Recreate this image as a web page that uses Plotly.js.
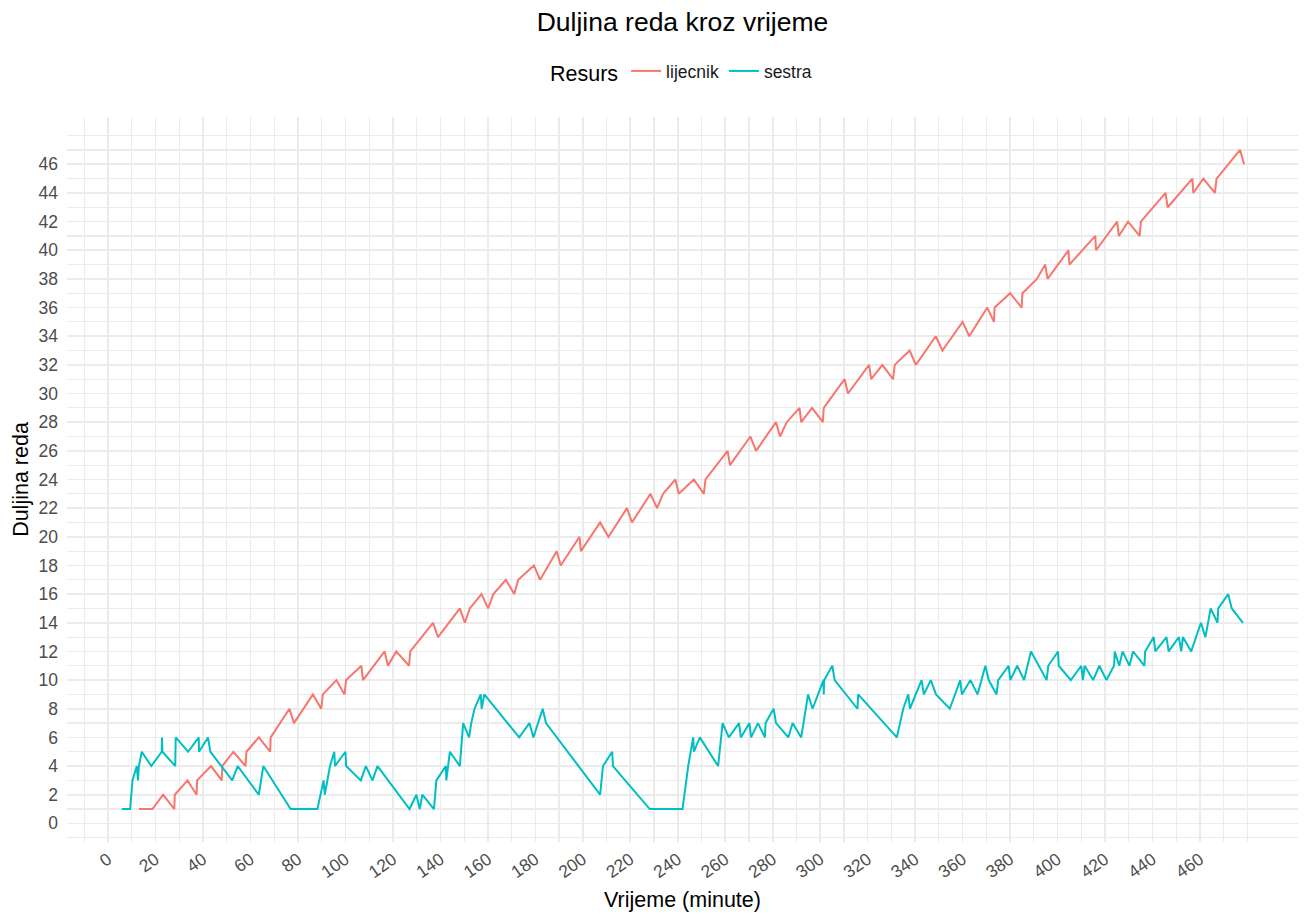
<!DOCTYPE html>
<html>
<head>
<meta charset="utf-8">
<script src="https://cdn.plot.ly/plotly-3.0.1.min.js"></script>
<style>html,body{margin:0;padding:0;background:#fff;}#chart{width:1308px;height:914px;}</style>
</head>
<body>
<div id="chart"></div>
<script>
// Resource names (legend order)
const resources = ["lijecnik", "sestra"];
const colors = ["#F8766D", "#00BFC4"];

// lijecnik: time (minutes) and queue length
const lijecnikT = [13, 18.7, 23.2, 27.9, 28.1, 33.5, 37.3, 37.5, 43.4, 47.9, 48.1, 52.8, 57.9, 58.3, 63.5, 68.3, 68.5, 76.4, 78.3, 86.3, 89.8, 90.5, 96.2, 99.6, 100.3, 106.7, 107.4, 116.5, 117.9, 121.4, 126.8, 127.3, 136.9, 139, 148.2, 150.3, 152.4, 157.3, 160.1, 162.3, 167.6, 171.1, 172.8, 179.4, 182, 189, 190.7, 198.6, 199.2, 207.3, 210.8, 218.6, 220.7, 228.5, 231.3, 233.8, 239, 240.4, 246.8, 251, 251.7, 261, 262, 270.6, 273, 281.4, 283.1, 285.9, 291.3, 292, 296.6, 301.1, 301.5, 310.3, 311.7, 320.6, 321.5, 326.2, 330.7, 331.4, 337.7, 340.3, 348.7, 351.5, 360, 362.8, 370.4, 373.2, 373.5, 380, 384.9, 385.2, 391.3, 394.8, 395.8, 404.6, 405, 415.9, 416.2, 425.1, 425.8, 429.7, 434.6, 435.1, 445.5, 446.4, 456.8, 457.2, 461.4, 466.3, 467, 476.9, 478.6];
const lijecnikLen = [1, 1, 2, 1, 2, 3, 2, 3, 4, 3, 4, 5, 4, 5, 6, 5, 6, 8, 7, 9, 8, 9, 10, 9, 10, 11, 10, 12, 11, 12, 11, 12, 14, 13, 15, 14, 15, 16, 15, 16, 17, 16, 17, 18, 17, 19, 18, 20, 19, 21, 20, 22, 21, 23, 22, 23, 24, 23, 24, 23, 24, 26, 25, 27, 26, 28, 27, 28, 29, 28, 29, 28, 29, 31, 30, 32, 31, 32, 31, 32, 33, 32, 34, 33, 35, 34, 36, 35, 36, 37, 36, 37, 38, 39, 38, 40, 39, 41, 40, 42, 41, 42, 41, 42, 44, 43, 45, 44, 45, 44, 45, 47, 46];

// sestra: time (minutes) and queue length
const sestraT = [5.8, 9.3, 10.3, 12.1, 12.6, 13.0, 14.2, 18.2, 22.6, 22.7, 22.9, 28.3, 28.5, 33.7, 38.2, 38.3, 42.1, 43.1, 52.3, 54.6, 63.5, 65.4, 76.9, 88.2, 90.8, 91.3, 93.5, 95.3, 95.6, 100, 100.3, 106.5, 108.6, 111.4, 113.5, 127, 129.9, 131.3, 132.4, 137.3, 138.3, 142.3, 142.5, 144, 148.2, 149.6, 152.1, 153, 154.4, 157, 157.4, 158.5, 173.2, 177.5, 179.2, 183.1, 184.5, 207.3, 208.5, 212.4, 212.7, 228.2, 242, 244.4, 246.5, 246.8, 249.3, 257, 258.9, 261.5, 265.8, 266.6, 270.2, 270.9, 273.8, 276.7, 277, 280.4, 281.4, 286.6, 288.4, 292, 294.9, 296.8, 301.4, 301.5, 301.7, 305.1, 306.1, 315.7, 316, 332.3, 335, 337.1, 337.8, 342.7, 343.7, 346.6, 348.8, 354.6, 359, 359.7, 363.3, 366.3, 369.6, 371, 374.3, 375, 379.4, 380.1, 383, 385.9, 388.8, 395.4, 396.1, 400.2, 400.5, 405.6, 410, 410.7, 411.4, 415, 417.6, 420.6, 423.8, 424.1, 426, 427.4, 430.3, 431.8, 436.6, 436.9, 440.5, 441.2, 445.9, 446.8, 451.1, 452.1, 452.8, 456.3, 460.4, 462.3, 464.5, 467.4, 467.7, 471.9, 473.4, 478.1];
const sestraLen = [1, 1, 3, 4, 3, 4, 5, 4, 5, 6, 5, 4, 6, 5, 6, 5, 6, 5, 3, 4, 2, 4, 1, 1, 3, 2, 4, 5, 4, 5, 4, 3, 4, 3, 4, 1, 2, 1, 2, 1, 3, 4, 3, 5, 4, 7, 6, 7, 8, 9, 8, 9, 6, 7, 6, 8, 7, 2, 4, 5, 4, 1, 1, 4, 6, 5, 6, 4, 7, 6, 7, 6, 7, 6, 7, 6, 7, 8, 7, 6, 7, 6, 9, 8, 10, 9, 10, 11, 10, 8, 9, 6, 8, 9, 8, 10, 9, 10, 9, 8, 10, 9, 10, 9, 11, 10, 9, 10, 11, 10, 11, 10, 12, 10, 11, 12, 11, 10, 11, 10, 11, 10, 11, 10, 11, 12, 11, 12, 11, 12, 11, 12, 13, 12, 13, 12, 13, 12, 13, 12, 14, 13, 15, 14, 15, 16, 15, 14];

// Axis tick labels
const xTicks = [0, 20, 40, 60, 80, 100, 120, 140, 160, 180, 200, 220, 240, 260, 280, 300, 320, 340, 360, 380, 400, 420, 440, 460];
const yTicks = [0, 2, 4, 6, 8, 10, 12, 14, 16, 18, 20, 22, 24, 26, 28, 30, 32, 34, 36, 38, 40, 42, 44, 46];

const xMinor = [];
for (let v = -10; v <= 480; v += 10) { if (xTicks.indexOf(v) < 0) xMinor.push(v); }
const yMinor = [];
for (let v = -1; v <= 48; v += 1) { if (yTicks.indexOf(v) < 0) yMinor.push(v); }

const seriesT = [lijecnikT, sestraT];
const seriesY = [lijecnikLen, sestraLen];

const traces = resources.map((r, i) => ({
  type: "scatter",
  mode: "lines",
  name: r,
  x: seriesT[i],
  y: seriesY[i],
  line: { color: colors[i], width: 2 }
}));

const FONT = "Liberation Sans, Arial, sans-serif";
const grid = "#EBEBEB";

const layout = {
  width: 1308,
  height: 914,
  margin: { l: 67, r: 10, t: 117, b: 72 },
  paper_bgcolor: "#ffffff",
  plot_bgcolor: "#ffffff",
  font: { family: FONT, color: "#000000" },
  title: {
    text: "Duljina reda kroz vrijeme",
    font: { family: FONT, size: 26.5, color: "#000000" },
    x: 0.5, xref: "paper", xanchor: "center",
    y: 0.976, yref: "container", yanchor: "middle"
  },
  legend: {
    orientation: "h",
    x: 0.5, xanchor: "center",
    y: 1.062, yanchor: "middle",
    font: { family: FONT, size: 17.5, color: "#1a1a1a" },
    title: { text: "Resurs", side: "left", font: { family: FONT, size: 21.5, color: "#000000" } },
    itemwidth: 30,
    tracegroupgap: 0
  },
  xaxis: {
    range: [-17.3, 501.3],
    tickmode: "array",
    tickvals: xTicks,
    ticktext: xTicks.map(String),
    tickangle: -35,
    tickfont: { family: FONT, size: 17.5, color: "#4D4D4D" },
    ticks: "",
    ticklabelstandoff: 3,
    showline: false,
    zeroline: false,
    showgrid: true,
    gridcolor: grid,
    gridwidth: 1.6,
    minor: { tickmode: "array", tickvals: xMinor, showgrid: true, gridcolor: grid, gridwidth: 1.2, ticks: "" },
    automargin: false,
    title: { text: "Vrijeme (minute)", font: { family: FONT, size: 21.5, color: "#000000" }, standoff: 11 }
  },
  yaxis: {
    range: [-1.3, 49.3],
    tickmode: "array",
    tickvals: yTicks,
    ticktext: yTicks.map(String),
    tickfont: { family: FONT, size: 17.5, color: "#4D4D4D" },
    ticks: "",
    ticklabelstandoff: 8,
    showline: false,
    zeroline: false,
    showgrid: true,
    gridcolor: grid,
    gridwidth: 1.6,
    minor: { tickmode: "array", tickvals: yMinor, showgrid: true, gridcolor: grid, gridwidth: 1.2, ticks: "" },
    automargin: false,
    title: { text: "Duljina reda", font: { family: FONT, size: 21.5, color: "#000000" }, standoff: 4 }
  },
  showlegend: true
};

Plotly.newPlot("chart", traces, layout, { displayModeBar: false, responsive: false, staticPlot: true });
</script>
</body>
</html>
